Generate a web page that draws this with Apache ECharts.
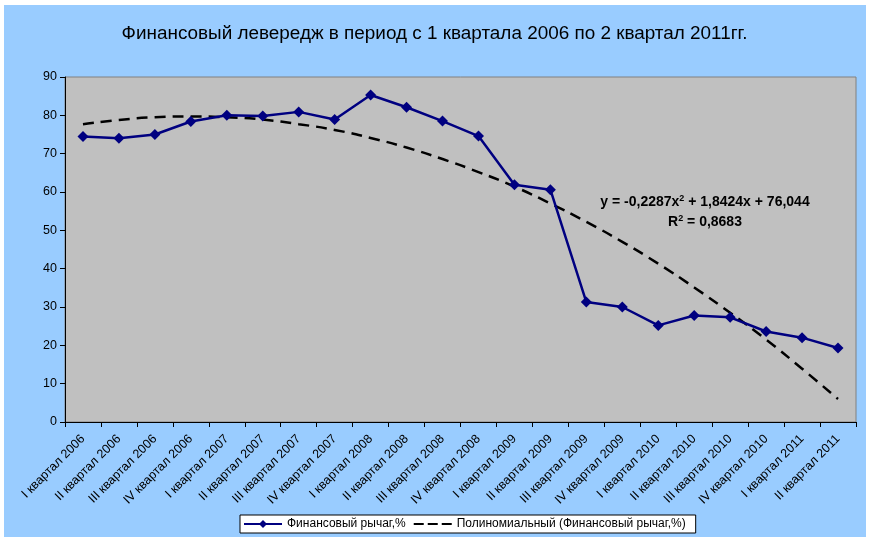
<!DOCTYPE html>
<html>
<head>
<meta charset="utf-8">
<script src="https://cdn.jsdelivr.net/npm/echarts@6/dist/echarts.min.js"></script>
<style>
html,body{margin:0;padding:0;background:#fff;}
#c{width:869px;height:541px;}
</style>
</head>
<body>
<div id="c"></div>
<script>
var categories = ["I квартал 2006","II квартал 2006","III квартал 2006","IV квартал 2006",
  "I квартал 2007","II квартал 2007","III квартал 2007","IV квартал 2007",
  "I квартал 2008","II квартал 2008","III квартал 2008","IV квартал 2008",
  "I квартал 2009","II квартал 2009","III квартал 2009","IV квартал 2009",
  "I квартал 2010","II квартал 2010","III квартал 2010","IV квартал 2010",
  "I квартал 2011","II квартал 2011"];
var leverage = [74.5,74.0,75.0,78.4,80.0,79.8,80.9,78.9,85.3,82.1,78.5,74.6,
  61.9,60.6,31.3,30.0,25.2,27.8,27.3,23.6,22.0,19.3];
var trend = [77.7,78.8,79.5,79.7,79.5,78.9,77.7,76.2,74.1,71.6,68.6,65.2,
  61.4,57.0,52.2,47.0,41.3,35.1,28.5,21.5,13.9,6.0];
var yTicks = {min:0, max:90, interval:10};
var titleText = "Финансовый левередж в период с 1 квартала 2006 по 2 квартал 2011гг.";
var seriesNames = ["Финансовый рычаг,%","Полиномиальный (Финансовый рычаг,%)"];

var chart = echarts.init(document.getElementById('c'));
var font = 'Liberation Sans, Arial, sans-serif';
var eqRich = {
  a:{fontSize:14,fontWeight:'bold',fontFamily:font,fill:'#000',lineHeight:16},
  s:{fontSize:9,fontWeight:'bold',fontFamily:font,fill:'#000',lineHeight:16,verticalAlign:'top',padding:[0,0,7,0]}
};
chart.setOption({
  backgroundColor: '#ffffff',
  animation: false,
  textStyle: {fontFamily: font},
  graphic: [
    {type:'rect', z:-10, silent:true, shape:{x:4,y:5,width:862,height:532}, style:{fill:'#99CCFF'}},
    {type:'text', z:100, x:705, y:202, style:{
      text:'{a|y = -0,2287x}{s|2}{a| + 1,8424x + 76,044}',
      align:'center', verticalAlign:'middle', rich: eqRich
    }},
    {type:'text', z:100, x:705, y:222, style:{
      text:'{a|R}{s|2}{a| = 0,8683}',
      align:'center', verticalAlign:'middle', rich: eqRich
    }}
  ],
  title: {
    text: titleText, left: 'center', top: 19,
    textStyle: {fontFamily: font, fontSize: 18.9, fontWeight: 'normal', color: '#000'}
  },
  legend: {
    left: 240, top: 515, orient: 'horizontal',
    backgroundColor: '#ffffff', borderColor: '#000', borderWidth: 1,
    padding: [3, 10, 3, 3], itemGap: 8, itemWidth: 38, itemHeight: 10,
    textStyle: {fontFamily: font, fontSize: 12, color: '#000'},
    data: [
      {name: seriesNames[0]},
      {name: seriesNames[1], icon: 'path://M0,4 L10,4 L10,6 L0,6 Z M14,4 L24,4 L24,6 L14,6 Z M28,4 L38,4 L38,6 L28,6 Z'}
    ]
  },
  grid: {
    left: 65, right: 13, top: 77, bottom: 119,
    show: true, backgroundColor: '#C0C0C0', borderColor: '#808080', borderWidth: 1
  },
  xAxis: {
    type: 'category', data: categories, boundaryGap: true,
    axisLine: {lineStyle: {color: '#000', width: 1}},
    axisTick: {show: true, length: 5, interval: 0, lineStyle: {color: '#000'}},
    axisLabel: {interval: 0, rotate: 45, fontSize: 12.5, color: '#000', fontFamily: font, margin: 15}
  },
  yAxis: {
    type: 'value', min: yTicks.min, max: yTicks.max, interval: yTicks.interval,
    axisLine: {show: true, lineStyle: {color: '#000', width: 1}},
    axisTick: {show: true, length: 5, lineStyle: {color: '#000'}},
    splitLine: {show: false},
    axisLabel: {fontSize: 12.5, color: '#000', fontFamily: font, margin: 8}
  },
  series: [
    {
      name: seriesNames[0], type: 'line', data: leverage, z: 5,
      symbol: 'diamond', symbolSize: 11,
      lineStyle: {color: '#000080', width: 2.5},
      itemStyle: {color: '#000080'}
    },
    {
      name: seriesNames[1], type: 'line', data: trend, z: 4,
      symbol: 'none', smooth: true,
      lineStyle: {color: '#000', width: 2.5, type: [11, 7]},
      itemStyle: {color: '#000'}
    }
  ]
});
</script>
</body>
</html>
